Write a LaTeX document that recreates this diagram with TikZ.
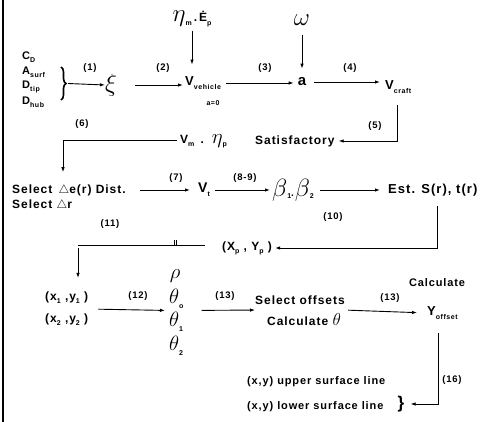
\documentclass[tikz,border=0pt]{standalone}
\usepackage{fontspec}
\setmainfont{Liberation Sans}[LetterSpace=8]
\usetikzlibrary{arrows.meta,calc,decorations.pathreplacing}
\newcommand\lsub[1]{\raisebox{-0.5ex}{\bfseries\fontsize{7}{7}\selectfont #1}}
\newcommand\gk[2]{{\fontsize{#1}{#1}\selectfont$#2$}}
\tikzset{
 txt/.style={inner sep=0pt, font=\bfseries\fontsize{12}{14}\selectfont},
 sml/.style={inner sep=0pt, font=\bfseries\fontsize{11}{12}\selectfont},
 lbl/.style={inner sep=0pt, font=\bfseries\fontsize{9.5}{10}\selectfont},
 grk/.style={inner sep=0pt, font=\bfseries\fontsize{19}{21}\selectfont},
 arr/.style={line width=0.9pt, -{Latex[length=5pt,width=3.5pt]}},
 ln/.style={line width=0.9pt},
}
\begin{document}
\begin{tikzpicture}[x=1pt,y=-1pt]
\useasboundingbox (0,0) rectangle (487,422);
\fill[white] (0,0) rectangle (487,422);
\draw[line width=1.3pt] (3,0) -- (3,422);

% row 1
\node[txt] (etaE) at (192,19) {\gk{24}{\eta}\lsub{m}\,.\,\.{E}\lsub{p}};
\node[grk] (omega) at (302,20) {\gk{26}{\omega}};
\node[sml,anchor=west] (cd) at (22,57) {C\lsub{D}};
\node[sml,anchor=west] (asurf) at (22,72) {A\lsub{surf}};
\node[sml,anchor=west] (dtip) at (22,87) {D\lsub{tip}};
\node[sml,anchor=west] (dhub) at (22,102) {D\lsub{hub}};
\draw[line width=1.6pt,decorate,decoration={brace,amplitude=5pt}] (61,67) -- (61,100);
\coordinate (b1) at (68,83.5);
\node[grk] (xi) at (111,85) {\gk{27}{\xi}};
\node[txt,anchor=west] (vveh) at (185,83) {\fontsize{13}{13}\selectfont V\lsub{vehicle}};
\node[inner sep=0pt,font=\bfseries\fontsize{7}{7}\selectfont] (a0) at (213,103) {a=0};
\node[inner sep=0pt,font=\bfseries\fontsize{15}{15}\selectfont] (a) at (302,82) {a};
\node[txt,anchor=west] (vcraft) at (385,87) {\fontsize{13}{13}\selectfont V\lsub{craft}};

\draw[arr] (b1) -- (xi.west);
\draw[arr,shorten <=18pt,shorten >=2pt] (xi.east) -- (xi.east -| vveh.west);
\draw[arr,shorten <=4pt,shorten >=12pt] (etaE.south) -- (etaE.south |- vveh.north);
\draw[arr,shorten <=5pt,shorten >=4pt] (vveh.east) -- (vveh.east -| a.west);
\draw[arr,shorten <=9pt,shorten >=9pt] (omega.south) -- (a.north);
\draw[arr,shorten <=8pt,shorten >=5pt] (a.east) -- (a.east -| vcraft.west);

\node[lbl] (l1) at (90,68) {(1)};
\node[lbl] (l2) at (163,68) {(2)};
\node[lbl] (l3) at (265,68) {(3)};
\node[lbl] (l4) at (350,68) {(4)};

% row 2
\node[txt,anchor=west] (vm) at (180,141) {V\lsub{m} \,.\, \gk{21}{\eta}\lsub{p}};
\node[txt,anchor=west] (sat) at (255,141) {Satisfactory};
\draw[arr,shorten >=4pt] ([shift={(12,12)}]vcraft.south west) |- (sat.east);
\node[lbl] (l5) at (375,126) {(5)};

% row 3
\node[txt,anchor=west] (sel1) at (12,190) {Select \,$\triangle$e(r) Dist.};
\node[txt,anchor=west] (sel2) at (12,205) {Select $\triangle$r};
\node[txt,anchor=west] (vt) at (198,190) {\fontsize{14}{14}\selectfont V\lsub{t}};
\node[inner sep=0pt,anchor=west] (beta) at (272,190) {\gk{25}{\beta}\lsub{1}\textbf{.}\gk{25}{\beta}\lsub{2}};
\node[txt,anchor=west] (est) at (388,190) {\fontsize{13}{14}\selectfont Est. S(r), t(r)};
\draw[arr,shorten <=14pt,shorten >=8pt] (sel1.east) -- (sel1.east -| vt.west);
\draw[arr,shorten <=5pt,shorten >=2pt] (vt.east) -- (vt.east -| beta.west);
\draw[arr,shorten <=6pt,shorten >=8pt] (beta.east) -- (beta.east -| est.west);
\node[lbl] (l7) at (176,178) {(7)};
\node[lbl] (l89) at (245,178) {(8-9)};

\coordinate (c6) at (63,140);
\draw[arr,shorten >=12pt] ([shift={(-3,-1)}]vm.west) -- (c6) -- (c6 |- sel1.north);
\node[lbl] (l6) at (82,124) {(6)};

% row (10)/(11)
\node[txt,anchor=west] (xp) at (222,248) {(X\lsub{p} , Y\lsub{p} )};
\draw[arr,shorten >=3pt] ([shift={(49,10)}]est.south west) |- (xp.east);
\node[lbl] (l10) at (333,217) {(10)};
\coordinate (c11) at (78,245);
\draw[ln] ([shift={(-17,-3)}]xp.west) -- (c11);
\draw[line width=0.6pt] (174,240) -- (174,245) (176.5,240) -- (176.5,245);
\node[lbl] (l11) at (110,224) {(11)};

% row 4
\node[txt,anchor=west] (xy1) at (45,298) {(x\lsub{1} ,y\lsub{1} )};
\node[txt,anchor=west] (xy2) at (45,320) {(x\lsub{2} ,y\lsub{2} )};
\draw[arr,shorten <=3pt,shorten >=14pt] (c11) -- (c11 |- xy1.north);
\node[grk] (rho) at (175,276) {\gk{20}{\rho}};
\node[grk,anchor=west] (th0) at (169,299) {\gk{20}{\theta}\lsub{o}};
\node[grk,anchor=west] (th1) at (169,322) {\gk{20}{\theta}\lsub{1}};
\node[grk,anchor=west] (th2) at (169,346) {\gk{20}{\theta}\lsub{2}};
\node[txt,anchor=west] (so) at (255,300) {Select offsets};
\node[txt,anchor=west] (ct) at (267,320) {Calculate \gk{19}{\theta}};
\node[sml] (calc) at (437,283) {Calculate};
\node[txt,anchor=west] (yoff) at (427,313) {\fontsize{13}{13}\selectfont Y\lsub{offset}};
\draw[arr,shorten <=10pt,shorten >=4pt] ($(xy1.east)!.5!(xy2.east)$) -- ($(th0.west)!.5!(th1.west)$);
\draw[arr,shorten <=18pt,shorten >=6pt] ($(th0.east)!.5!(th1.east)$) -- ($(so.west)!.5!(ct.west)$);
\draw[arr,shorten <=5pt,shorten >=10pt] ($(so.east)!.5!(ct.east)$) -- (yoff.west);
\node[lbl] (l12) at (138,296) {(12)};
\node[lbl] (l13a) at (225,296) {(13)};
\node[lbl] (l13b) at (390,298) {(13)};

% bottom
\node[sml,anchor=west] (up) at (247,382) {(x,y) upper surface line};
\node[sml,anchor=west] (low) at (247,407) {(x,y) lower surface line};
\node[inner sep=0pt,font=\bfseries\fontsize{17}{17}\selectfont] (br2) at (401,404) {\}};
\draw[arr,shorten >=6pt] ([shift={(11,14)}]yoff.south west) |- (br2.east);
\node[lbl] (l16) at (452,380) {(16)};
\end{tikzpicture}
\end{document}
